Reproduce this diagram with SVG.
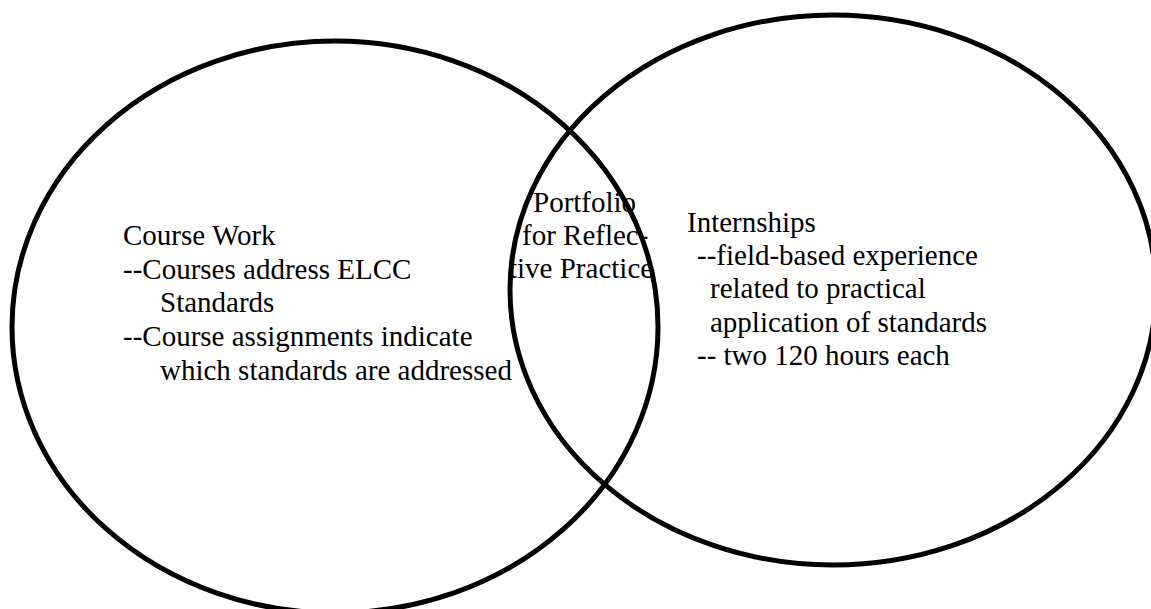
<svg xmlns="http://www.w3.org/2000/svg" width="1151" height="609" viewBox="0 0 1151 609">
<style>
  .t { font-family: "Liberation Serif", "Times New Roman", serif; font-size: 29px; fill: #000000; }
  .ring { fill: none; stroke: #000000; stroke-width: 5; }
</style>
<rect width="1151" height="609" fill="#ffffff"/>
<g id="course-work-text" class="t">
  <text x="123" y="245">Course Work</text>
  <text x="123" y="279">--Courses address ELCC</text>
  <text x="160" y="312">Standards</text>
  <text x="123" y="346">--Course assignments indicate</text>
  <text x="160" y="380">which standards are addressed</text>
</g>
<g id="portfolio-text" class="t">
  <text x="533" y="212">Portfolio</text>
  <text x="522" y="245">for Reflec-</text>
  <text x="509" y="278">tive Practice</text>
</g>
<g id="internships-text" class="t">
  <text x="687" y="232">Internships</text>
  <text x="697" y="265">--field-based experience</text>
  <text x="710" y="298">related to practical</text>
  <text x="710" y="332">application of standards</text>
  <text x="697" y="365">-- two 120 hours each</text>
</g>
<g id="course-work">
  <ellipse class="ring" cx="335" cy="327" rx="323" ry="286"/>
</g>
<g id="internships">
  <ellipse class="ring" cx="833" cy="290" rx="323" ry="275"/>
</g>
<g id="connectors"></g>
</svg>
